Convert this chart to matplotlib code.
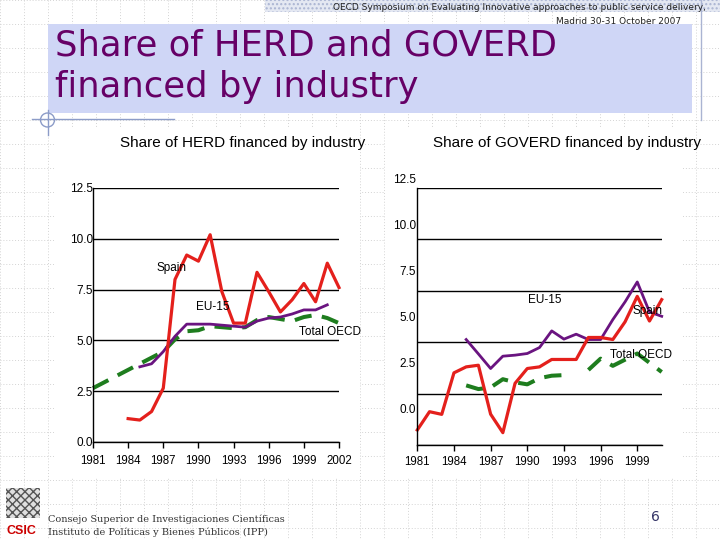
import numpy as np
import matplotlib
matplotlib.use('Agg')
import matplotlib.pyplot as plt
from matplotlib.patches import Rectangle, Circle

# 数据：HERD（左图）
herd_years = list(range(1981, 2003))
herd_spain = [np.nan, np.nan, np.nan, 1.15, 1.08, 1.5, 2.65, 8.0, 9.2, 8.9, 10.2,
              7.4, 5.85, 5.85, 8.35, 7.4, 6.4, 7.0, 7.8, 6.9, 8.8, 7.6]
herd_eu15 = [np.nan, np.nan, np.nan, np.nan, 3.7, 3.85, 4.45, 5.2, 5.8, 5.8, 5.8,
             5.75, 5.7, 5.65, 5.95, 6.1, 6.15, 6.3, 6.5, 6.5, 6.75, np.nan]
herd_oecd = [2.65, 2.95, 3.25, 3.55, 3.85, 4.15, 4.45, 5.05, 5.45, 5.5, 5.7,
             5.65, 5.6, 5.65, 6.0, 6.15, 6.05, 5.95, 6.15, 6.25, 6.1, 5.85]

# 数据：GOVERD（右图）
gov_years = list(range(1981, 2002))
gov_spain = [0.73, 1.62, 1.49, 3.51, 3.8, 3.88, 1.5, 0.6, 3.0, 3.72, 3.8,
             4.16, 4.16, 4.16, 5.23, 5.23, 5.13, 5.99, 7.23, 6.03, 7.07]
gov_eu15 = [np.nan, np.nan, np.nan, np.nan, 5.13, 4.43, 3.72, 4.32, 4.37, 4.45, 4.74,
            5.55, 5.15, 5.39, 5.13, 5.13, 6.1, 6.96, 7.93, 6.47, 6.26]
gov_oecd = [np.nan, np.nan, np.nan, np.nan, 2.9, 2.72, 2.8, 3.2, 3.05, 2.95, 3.25,
            3.37, 3.4, np.nan, 3.65, 4.2, 3.85, 4.15, 4.45, 4.0, 3.55]

y_ticks = [0, 2.5, 5.0, 7.5, 10.0, 12.5]
y_labels = ['0.0', '2.5', '5.0', '7.5', '10.0', '12.5']
# 右图的刻度文字与网格线错位（原图如此）
gov_label_pos = [1.70, 3.94, 6.18, 8.42, 10.65, 12.89]

RED = '#e4201c'
PURPLE = '#6a1480'
GREEN = '#1e7d1e'
CHART_FONT = 'Liberation Sans'

fig = plt.figure(figsize=(7.2, 5.4), dpi=100)

# 背景：幻灯片模板
bg = fig.add_axes([0, 0, 1, 1])
bg.set_xlim(0, 720)
bg.set_ylim(540, 0)
bg.axis('off')
for gx in np.arange(0, 721, 24):
    bg.plot([gx, gx], [0, 540], color='#d4d4d4', lw=0.7, ls=(0, (1, 2)), zorder=0)
for gy in np.arange(0, 541, 24):
    bg.plot([0, 720], [gy, gy], color='#d4d4d4', lw=0.7, ls=(0, (1, 2)), zorder=0)

bg.add_patch(Rectangle((265, 0), 455, 12, facecolor='#e4e8f2', edgecolor='#aab4d2',
                       hatch='....', lw=0, zorder=1))
bg.add_patch(Rectangle((48, 24), 644, 89, facecolor='#cfd6f6', edgecolor='none', zorder=2))
bg.plot([701, 701], [0, 120], color='#aab4d2', lw=1, zorder=2)
bg.plot([32, 174], [119, 119], color='#8c9cc8', lw=1, zorder=2)
bg.plot([47.5, 47.5], [110, 135], color='#8c9cc8', lw=1, zorder=2)
bg.add_patch(Circle((47.5, 120), 7, facecolor='none', edgecolor='#8c9cc8', lw=1, zorder=2))

bg.text(706, 7, 'OECD Symposium on Evaluating Innovative approaches to public service delivery,',
        ha='right', va='center', fontsize=6.5, color='#222222', zorder=3)
bg.text(681, 21, 'Madrid 30-31 October 2007', ha='right', va='center',
        fontsize=6.5, color='#222222', zorder=3)
bg.text(55, 55, 'Share of HERD and GOVERD', ha='left', va='baseline',
        fontsize=25.5, color='#660066', zorder=3)
bg.text(55, 97, 'financed by industry', ha='left', va='baseline',
        fontsize=25.5, color='#660066', zorder=3)

# 图表区域的白底
bg.add_patch(Rectangle((55, 128), 305, 350, facecolor='white', edgecolor='none', zorder=2))
bg.add_patch(Rectangle((385, 128), 297, 350, facecolor='white', edgecolor='none', zorder=2))
bg.text(243, 143, 'Share of HERD financed by industry', ha='center', va='center',
        fontsize=11, family=CHART_FONT, zorder=3)
bg.text(567, 143, 'Share of GOVERD financed by industry', ha='center', va='center',
        fontsize=11, family=CHART_FONT, zorder=3)

# 底部标志和页码
bg.add_patch(Rectangle((6, 488), 34, 30, facecolor='#e0e0e0', edgecolor='#555555',
                       hatch='xxxx', lw=0, zorder=3))
bg.text(21, 531, 'CSIC', ha='center', va='center', fontsize=9, fontweight='bold',
        color='#cc0000', family=CHART_FONT, zorder=4)
bg.text(48, 519, 'Consejo Superior de Investigaciones Científicas', ha='left', va='center',
        fontsize=7, family='DejaVu Serif', color='#333333', zorder=4)
bg.text(48, 532, 'Instituto de Políticas y Bienes Públicos (IPP)', ha='left', va='center',
        fontsize=7, family='DejaVu Serif', color='#333333', zorder=4)
bg.text(655, 517, '6', ha='center', va='center', fontsize=10, color='#333366', zorder=4)


def style_axes(ax, xticks):
    ax.set_facecolor('none')
    for s in ['top', 'right']:
        ax.spines[s].set_visible(False)
    for s in ['left', 'bottom']:
        ax.spines[s].set_color('black')
        ax.spines[s].set_linewidth(1)
    ax.set_xticks(xticks)
    ax.set_xticklabels([str(x) for x in xticks], fontsize=8.3, family=CHART_FONT)
    ax.tick_params(axis='x', length=4, width=1, pad=5)
    ax.set_yticks(y_ticks)
    ax.yaxis.grid(True, color='black', lw=1)
    ax.set_axisbelow(True)


# 左图：HERD
axL = fig.add_axes([93 / 720, 98 / 540, 246 / 720, 254 / 540])
axL.set_zorder(5)
axL.set_xlim(1981, 2002)
axL.set_ylim(0, 12.5)
style_axes(axL, list(range(1981, 2003, 3)))
axL.set_yticklabels(y_labels, fontsize=8.5, family=CHART_FONT)
axL.tick_params(axis='y', length=0, pad=0)
axL.plot(herd_years, herd_oecd, color=GREEN, lw=2.9, dashes=(4.3, 2.6), clip_on=False)
axL.plot(herd_years, herd_eu15, color=PURPLE, lw=2.0, clip_on=False)
axL.plot(herd_years, herd_spain, color=RED, lw=2.3, clip_on=False)
axL.text(1987.7, 8.56, 'Spain', ha='center', va='center', fontsize=8.5, family=CHART_FONT)
axL.text(1991.25, 6.64, 'EU-15', ha='center', va='center', fontsize=8.5, family=CHART_FONT)
axL.text(2001.2, 5.41, 'Total OECD', ha='center', va='center', fontsize=8.5, family=CHART_FONT)

# 右图：GOVERD
axR = fig.add_axes([417.3 / 720, 95 / 540, 244.4 / 720, 257 / 540])
axR.set_zorder(5)
axR.set_xlim(1981, 2001)
axR.set_ylim(0, 12.5)
style_axes(axR, list(range(1981, 2000, 3)))
axR.set_yticklabels([])
axR.tick_params(axis='y', length=0)
axR.tick_params(axis='x', pad=4)
for v, lab in zip(gov_label_pos, y_labels):
    axR.text(1980.9, v, lab, ha='right', va='center', fontsize=8.5, family=CHART_FONT,
             clip_on=False)
axR.plot(gov_years, gov_oecd, color=GREEN, lw=2.9, dashes=(4.3, 2.6), clip_on=False)
axR.plot(gov_years, gov_eu15, color=PURPLE, lw=2.0, clip_on=False)
axR.plot(gov_years, gov_spain, color=RED, lw=2.3, clip_on=False)
axR.text(1991.4, 7.05, 'EU-15', ha='center', va='center', fontsize=8.5, family=CHART_FONT)
axR.text(1999.8, 6.52, 'Spain', ha='center', va='center', fontsize=8.5, family=CHART_FONT)
axR.text(1999.3, 4.4, 'Total OECD', ha='center', va='center', fontsize=8.5, family=CHART_FONT)

fig.savefig('out.png', dpi=100)
